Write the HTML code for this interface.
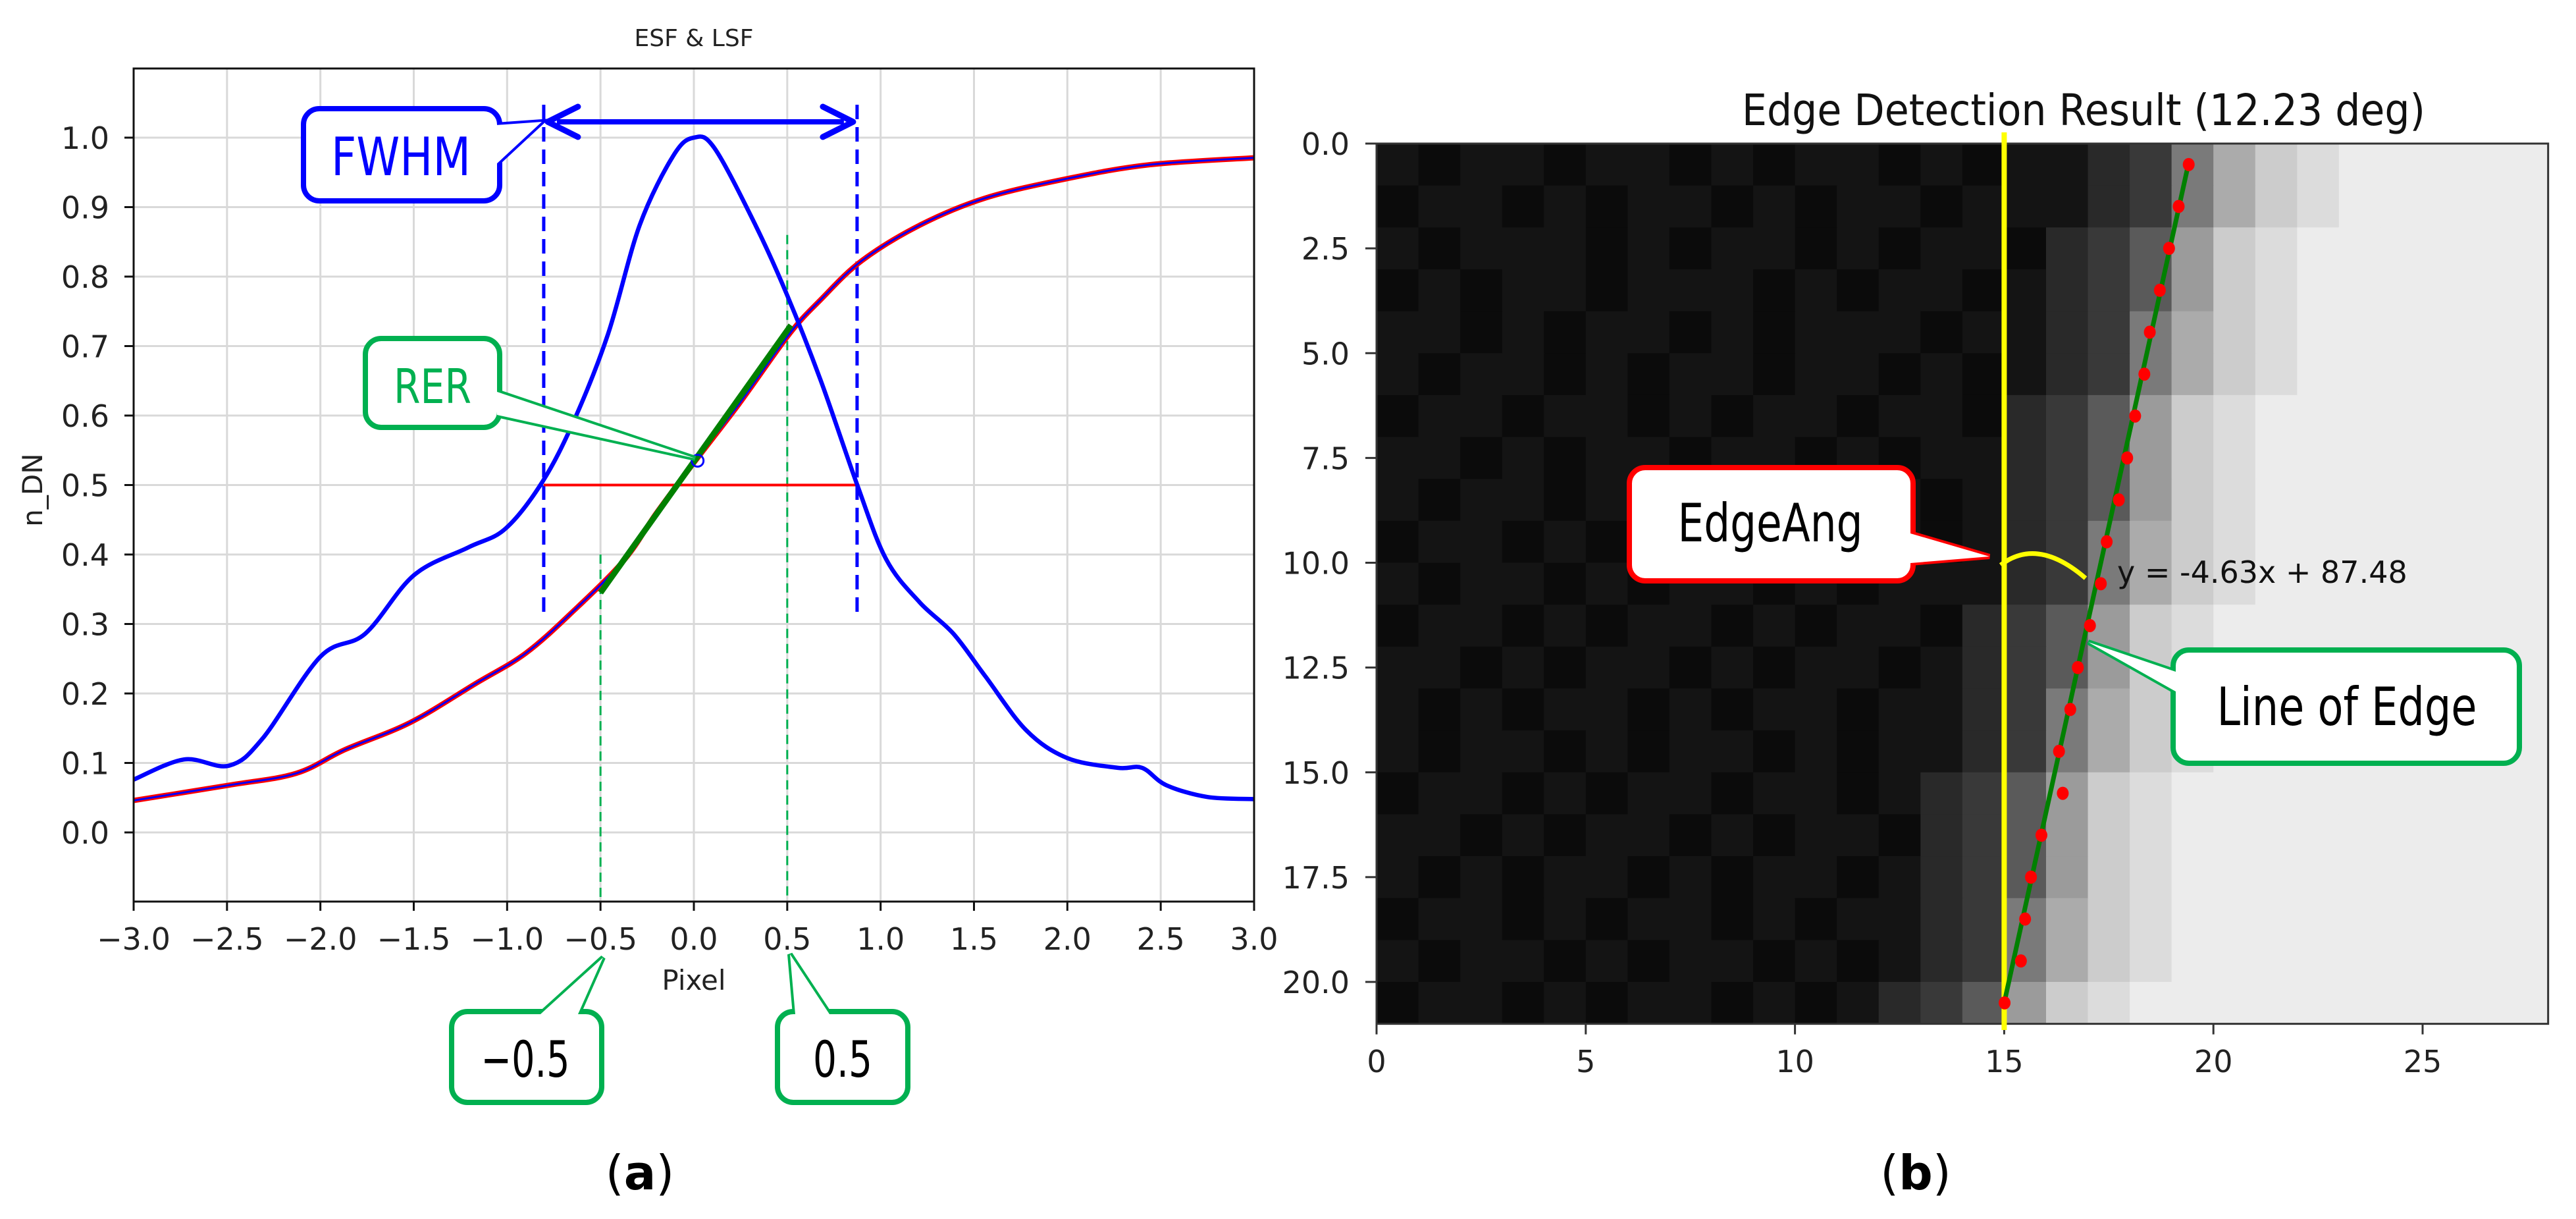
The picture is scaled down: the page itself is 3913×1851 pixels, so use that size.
<!DOCTYPE html>
<html><head><meta charset="utf-8">
<style>
html,body{margin:0;padding:0;background:#fff;}
svg{display:block;}
text{font-family:"DejaVu Sans","Liberation Sans",sans-serif;}
</style></head>
<body>
<svg id="fig" width="3913" height="1851" viewBox="0 0 3913 1851" xmlns="http://www.w3.org/2000/svg">
<rect width="3913" height="1851" fill="#fff"/>
<g id="left"></g>
<g id="right"></g>
</svg>
<script>
// ---------- Panel (a) data ----------
const lsfX = [-3,-2.73,-2.49,-2.31,-2.0,-1.76,-1.5,-1.21,-1.01,-0.81,-0.64,-0.46,-0.29,-0.11,0.0,0.11,0.33,0.5,0.68,0.875,1.03,1.21,1.39,1.56,1.78,2.0,2.27,2.4,2.53,2.75,3.0];
const lsfY = [0.076,0.105,0.096,0.135,0.253,0.286,0.37,0.41,0.437,0.505,0.594,0.717,0.874,0.974,1.0,0.985,0.874,0.773,0.65,0.5,0.393,0.331,0.286,0.225,0.147,0.107,0.093,0.093,0.068,0.051,0.048];
const esfX = [-3,-2.49,-2.13,-1.87,-1.52,-1.17,-0.9,-0.64,-0.37,-0.2,0.0,0.24,0.51,0.68,0.9,1.21,1.56,2.0,2.44,3.0];
const esfY = [0.046,0.068,0.085,0.119,0.158,0.214,0.258,0.32,0.393,0.46,0.532,0.616,0.717,0.767,0.823,0.874,0.913,0.941,0.961,0.971];
const xTicksA = [-3.0,-2.5,-2.0,-1.5,-1.0,-0.5,0.0,0.5,1.0,1.5,2.0,2.5,3.0];
const yTicksA = [0.0,0.1,0.2,0.3,0.4,0.5,0.6,0.7,0.8,0.9,1.0];
const fwhmLeft = -0.804, fwhmRight = 0.874;
const rerX = [-0.5, 0.52];
const rerY = [0.345, 0.73];
const rerPoint = [0.02, 0.535];

// ---------- Panel (b) data ----------
const imgRows = [
"1011011010110101"+"1237acd"+"eeeee",
"0110101101011011"+"1237acd"+"eeeee",
"1011101011010110"+"2359cde"+"eeeee",
"0101101110101101"+"2359cde"+"eeeee",
"1101011010111011"+"237acde"+"eeeee",
"101101011011010"+"1237acde"+"eeeee",
"011011010110110"+"2359cdee"+"eeeee",
"110101101101011"+"2359cdee"+"eeeee",
"101101011010101"+"2359cdee"+"eeeee",
"011010110110101"+"237acdee"+"eeeee",
"10110101101011"+"1237acdee"+"eeeee",
"01101011010110"+"2359cdeee"+"eeeee",
"11010110101101"+"2359cdeee"+"eeeee",
"10101101011011"+"237acdeee"+"eeeee",
"1011010110101"+"1237acdeee"+"eeeee",
"0110101101101"+"2359cdeeee"+"eeeee",
"1101011010110"+"2359cdeeee"+"eeeee",
"1010110101101"+"2359cdeeee"+"eeeee",
"0110101101011"+"237acdeeee"+"eeeee",
"101101011010"+"1237acdeeee"+"eeeee",
"011010110101"+"2359cdeeeee"+"eeeee"
];
const edgePtY = [0.5,1.5,2.5,3.5,4.5,5.5,6.5,7.5,8.5,9.5,10.5,11.5,12.5,13.5,14.5,15.5,16.5,17.5,18.5,19.5,20.5];
const edgePtX = [19.41,19.17,18.94,18.72,18.48,18.35,18.13,17.94,17.74,17.45,17.31,17.05,16.76,16.58,16.31,16.40,15.89,15.64,15.50,15.40,15.01];
const fitLineX = [19.4, 15.0];
const fitLineY = [0.5, 20.5];
const refLineX = 15;
const xTicksB = [0,5,10,15,20,25];
const yTicksB = [0.0,2.5,5.0,7.5,10.0,12.5,15.0,17.5,20.0];

const NS = "http://www.w3.org/2000/svg";
function mk(parent, tag, attrs, txt){
  const e = document.createElementNS(NS, tag);
  for (const k in attrs) e.setAttribute(k, attrs[k]);
  if (txt !== undefined) e.textContent = txt;
  parent.appendChild(e);
  return e;
}
const fmtA = v => (v<0?"\u2212":"") + Math.abs(v).toFixed(1);

// ===== Panel (a) =====
const L = document.getElementById('left');
const ax0 = 203, ax1 = 1905, ayTop = 104, ayBot = 1369;
const X = v => ax0 + (v + 3) * (ax1 - ax0) / 6;
const Y = v => 1264 - v * 1055;

xTicksA.forEach(t => {
  const g = mk(L,'line',{x1:X(t),x2:X(t),y1:ayTop,y2:ayBot,stroke:'#d9d9d9','stroke-width':3});
  
  
});
yTicksA.forEach(t => {
  const g = mk(L,'line',{x1:ax0,x2:ax1,y1:Y(t),y2:Y(t),stroke:'#d9d9d9','stroke-width':3});
  
  
});
let t = mk(L,'text',{x:1054,y:70,'font-size':36,'text-anchor':'middle',fill:'#222'},'ESF & LSF');



[fwhmLeft, fwhmRight].forEach(v => {
  const d = mk(L,'line',{x1:X(v),x2:X(v),y1:159,y2:933,stroke:'#0000ff','stroke-width':5,'stroke-dasharray':'22 12'});
  
  
});
[[-0.5,0.4],[0.5,0.86]].forEach(p => {
  const d = mk(L,'line',{x1:X(p[0]),x2:X(p[0]),y1:Y(p[1]),y2:ayBot,stroke:'#00b050','stroke-width':3,'stroke-dasharray':'14 9'});
  
  
});
t = mk(L,'line',{x1:X(fwhmLeft),x2:X(fwhmRight),y1:Y(0.5),y2:Y(0.5),stroke:'#ff0000','stroke-width':4});



function smoothPath(xs, ys){
  const P = xs.map((x,i)=>[X(x), Y(ys[i])]);
  let d = 'M'+P[0][0].toFixed(1)+','+P[0][1].toFixed(1);
  for (let i=0;i<P.length-1;i++){
    const p0=P[Math.max(0,i-1)], p1=P[i], p2=P[i+1], p3=P[Math.min(P.length-1,i+2)];
    const c1=[p1[0]+(p2[0]-p0[0])/6, p1[1]+(p2[1]-p0[1])/6];
    const c2=[p2[0]-(p3[0]-p1[0])/6, p2[1]-(p3[1]-p1[1])/6];
    d += ` C${c1[0].toFixed(1)},${c1[1].toFixed(1)} ${c2[0].toFixed(1)},${c2[1].toFixed(1)} ${p2[0].toFixed(1)},${p2[1].toFixed(1)}`;
  }
  return d;
}
t = mk(L,'path',{d:smoothPath(esfX,esfY),fill:'none',stroke:'#ff0000','stroke-width':8,'stroke-linejoin':'round'});


t = mk(L,'path',{d:smoothPath(esfX,esfY),fill:'none',stroke:'#0000ff','stroke-width':3,'stroke-linejoin':'round'});


t = mk(L,'path',{d:smoothPath(lsfX,lsfY),fill:'none',stroke:'#0000ff','stroke-width':6.5,'stroke-linejoin':'round'});


t = mk(L,'line',{x1:X(rerX[0]),y1:Y(rerY[0]),x2:X(rerX[1]),y2:Y(rerY[1]),stroke:'#008000','stroke-width':9});


t = mk(L,'circle',{cx:X(rerPoint[0]),cy:Y(rerPoint[1]),r:9,fill:'none',stroke:'#0000ff','stroke-width':3});



t = mk(L,'rect',{x:ax0,y:ayTop,width:ax1-ax0,height:ayBot-ayTop,fill:'none',stroke:'#111','stroke-width':3});


xTicksA.forEach(v => {
  const tk = mk(L,'line',{x1:X(v),x2:X(v),y1:ayBot,y2:ayBot+14,stroke:'#111','stroke-width':3});
  
  
  const lb = mk(L,'text',{x:X(v),y:1442,'font-size':46,'text-anchor':'middle',fill:'#222'},fmtA(v));
  
  
});
yTicksA.forEach(v => {
  const tk = mk(L,'line',{x1:ax0-14,x2:ax0,y1:Y(v),y2:Y(v),stroke:'#111','stroke-width':3});
  
  
  const lb = mk(L,'text',{x:166,y:Y(v)+17,'font-size':46,'text-anchor':'end',fill:'#222'},fmtA(v));
  
  
});
t = mk(L,'text',{x:1054,y:1503,'font-size':42,'text-anchor':'middle',fill:'#222'},'Pixel');


t = mk(L,'text',{x:0,y:0,'font-size':42,'text-anchor':'middle',fill:'#222',transform:'translate(64,744) rotate(-90)'},'n_DN');



t = mk(L,'line',{x1:X(fwhmLeft)+20,x2:X(fwhmRight)-20,y1:185,y2:185,stroke:'#0000ff','stroke-width':8});


t = mk(L,'path',{d:`M${X(fwhmLeft)+52},162 L${X(fwhmLeft)+6},185 L${X(fwhmLeft)+52},208 M${X(fwhmRight)-52},162 L${X(fwhmRight)-6},185 L${X(fwhmRight)-52},208`,fill:'none',stroke:'#0000ff','stroke-width':9,'stroke-linecap':'round','stroke-linejoin':'round'});



function callout(parent,name,color,x,y,w,h,pointer,label,tx,ty,fs,tl,tcolor){
  const g = mk(parent,'g',{});
  
  
  mk(g,'polygon',{points:pointer.map(p=>p.join(',')).join(' '),fill:'#fff',stroke:color,'stroke-width':8,'stroke-linejoin':'miter'});
  mk(g,'rect',{x:x,y:y,width:w,height:h,rx:24,ry:24,fill:'#fff',stroke:color,'stroke-width':8});
  mk(g,'polygon',{points:pointer.map(p=>p.join(',')).join(' '),fill:'#fff',stroke:'none'});
  mk(g,'text',{x:tx,y:ty,'font-size':fs,'text-anchor':'middle',fill:tcolor,textLength:tl,lengthAdjust:'spacingAndGlyphs','font-family':'Liberation Sans, sans-serif'},label);
  return g;
}
callout(L,'fwhm-callout','#0000ff',461,165,298,140,[[753,190],[823,185],[753,250]],'FWHM',609,266,80,212,'#0000ff');
callout(L,'rer-callout','#00b050',555,514,204,135,[[755,595],[1056,696],[755,630]],'RER',657,612,72,118,'#00b050');
callout(L,'minus-half-callout','#00b050',686,1536,228,138,[[821,1540],[916,1454],[878,1540]],'\u22120.5',798,1635,76,135,'#000');
callout(L,'plus-half-callout','#00b050',1181,1536,198,138,[[1208,1540],[1200,1449],[1260,1540]],'0.5',1280,1635,76,90,'#000');
t = mk(L,'text',{x:972,y:1806,'font-size':72,'text-anchor':'middle',fill:'#000','font-family':'Liberation Serif, serif'},'');


mk(t,'tspan',{},'(');
mk(t,'tspan',{'font-weight':'bold'},'a');
mk(t,'tspan',{},')');

// ===== Panel (b) =====
const R = document.getElementById('right');
const bx0 = 2091, by0 = 218;
const RX = v => bx0 + v * 63.56;
const RY = v => by0 + v * 63.65;
const img = mk(R,'g',{});


imgRows.forEach((row, r) => {
  for (let c = 0; c < 28; c++) {
    const v = parseInt(row[c],16);
    const g = v === 0 ? 11 : (v === 1 ? 20 : Math.round(8 + v * 16.3));
    const cell = mk(img,'rect',{x:RX(c),y:RY(r),width:64.5,height:64.6,fill:`rgb(${g},${g},${g})`});
    
    
  }
});
t = mk(R,'rect',{x:bx0,y:by0,width:RX(28)-bx0,height:RY(21)-by0,fill:'none',stroke:'#333','stroke-width':3});


xTicksB.forEach(v => {
  const tk = mk(R,'line',{x1:RX(v),x2:RX(v),y1:RY(21),y2:RY(21)+16,stroke:'#333','stroke-width':3});
  
  
  const lb = mk(R,'text',{x:RX(v),y:1628,'font-size':46,'text-anchor':'middle',fill:'#222'},String(v));
  
  
});
yTicksB.forEach(v => {
  const tk = mk(R,'line',{x1:bx0-17,x2:bx0,y1:RY(v),y2:RY(v),stroke:'#333','stroke-width':3});
  
  
  const lb = mk(R,'text',{x:2050,y:RY(v)+17,'font-size':46,'text-anchor':'end',fill:'#222'},v.toFixed(1));
  
  
});
t = mk(R,'text',{x:3165,y:190,'font-size':66,'text-anchor':'middle',fill:'#111',textLength:1038,lengthAdjust:'spacingAndGlyphs','font-family':'Liberation Sans, sans-serif'},'Edge Detection Result (12.23 deg)');


t = mk(R,'line',{x1:RX(refLineX),x2:RX(refLineX),y1:201,y2:1564,stroke:'#ffff00','stroke-width':8});


t = mk(R,'line',{x1:RX(fitLineX[0]),y1:RY(fitLineY[0]),x2:RX(fitLineX[1]),y2:RY(fitLineY[1]),stroke:'#008000','stroke-width':7});


edgePtX.forEach((x,i) => {
  const p = mk(R,'ellipse',{cx:RX(x),cy:RY(edgePtY[i]),rx:9,ry:10,fill:'#ff0000'});
  
  
});
t = mk(R,'path',{d:'M3039,858 Q3095,815 3168,878',fill:'none',stroke:'#ffff00','stroke-width':7});


t = mk(R,'text',{x:3216,y:885,'font-size':46,fill:'#111'},'y = -4.63x + 87.48');


callout(R,'edgeang-callout','#ff0000',2475,710,431,172,[[2902,810],[3022,845],[2902,855]],'EdgeAng',2689,822,80,281,'#000');
callout(R,'line-of-edge-callout','#00b050',3301,987,526,172,[[3305,1050],[3172,975],[3305,1020]],'Line of Edge',3565,1101,80,395,'#000');
t = mk(R,'text',{x:2910,y:1806,'font-size':72,'text-anchor':'middle',fill:'#000','font-family':'Liberation Serif, serif'},'');


mk(t,'tspan',{},'(');
mk(t,'tspan',{'font-weight':'bold'},'b');
mk(t,'tspan',{},')');
</script>
</body></html>
